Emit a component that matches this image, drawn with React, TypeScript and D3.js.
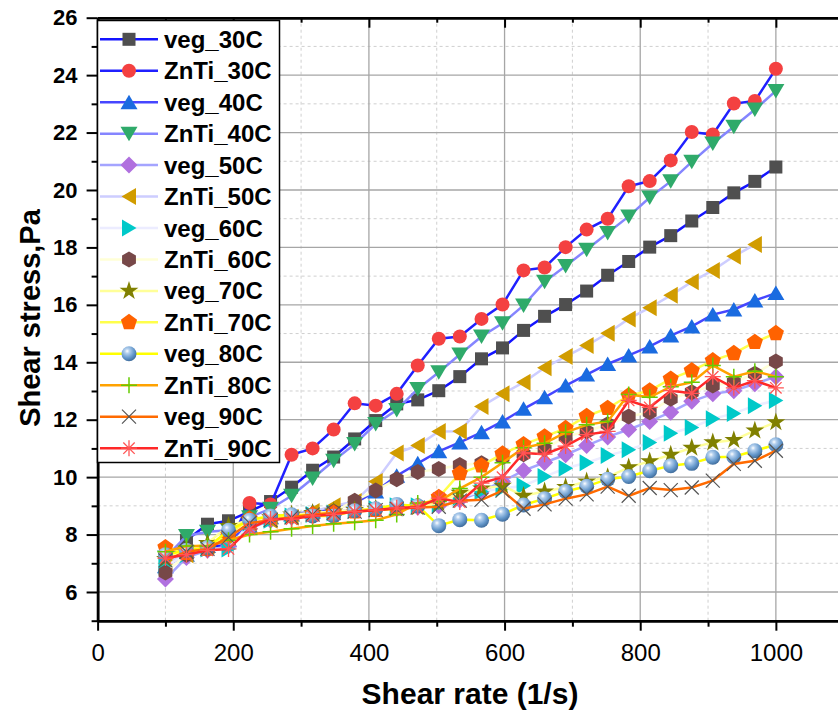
import React, { useEffect, useRef } from 'react'
import * as d3 from 'd3'

// shear rate (1/s)
const shearRate = [100, 131, 162, 193, 224, 255, 286, 317, 348, 379, 410, 441, 472, 503, 534, 566, 597, 628, 659, 690, 721, 752, 783, 814, 845, 876, 907, 938, 969, 1000]

// shear stress (Pa) per sample
const veg30 = [7.1, 7.8, 8.36, 8.48, 8.8, 9.15, 9.65, 10.24, 10.7, 11.33, 11.97, 12.55, 12.69, 13.01, 13.5, 14.12, 14.5, 15.11, 15.6, 16.01, 16.48, 17.03, 17.51, 18.01, 18.41, 18.92, 19.39, 19.9, 20.3, 20.8]
const znti30 = [7.2, 7.4, 7.55, 7.65, 9.1, 9.05, 10.78, 11.0, 11.66, 12.57, 12.49, 12.9, 13.89, 14.82, 14.9, 15.51, 16.01, 17.2, 17.3, 18.01, 18.62, 19.0, 20.13, 20.31, 21.03, 22.02, 21.93, 23.01, 23.1, 24.22]
const veg40 = [6.9, 7.3, 7.6, 7.8, 8.3, 8.6, 8.7, 8.8, 8.9, 9.1, 9.5, 10.05, 10.48, 10.9, 11.21, 11.56, 11.94, 12.38, 12.78, 13.19, 13.57, 13.94, 14.24, 14.55, 14.93, 15.25, 15.66, 15.84, 16.15, 16.41]
const znti40 = [7.2, 7.95, 8.1, 8.15, 8.6, 8.9, 9.35, 9.95, 10.57, 11.15, 11.85, 12.34, 13.07, 13.65, 14.27, 14.9, 15.36, 15.98, 16.8, 17.35, 17.92, 18.5, 19.08, 19.74, 20.3, 20.98, 21.62, 22.2, 22.8, 23.45]
const veg50 = [6.45, 7.2, 7.45, 7.6, 8.2, 8.5, 8.6, 8.7, 8.8, 8.85, 8.9, 8.9, 8.95, 9.0, 9.2, 9.5, 9.85, 10.23, 10.51, 10.78, 11.1, 11.4, 11.66, 11.94, 12.26, 12.64, 12.9, 13.01, 13.25, 13.5]
const znti50 = [7.0, 7.3, 7.6, 7.9, 8.4, 8.5, 8.6, 8.8, 9.0, 9.15, 9.85, 10.84, 11.1, 11.59, 11.6, 12.46, 12.9, 13.3, 13.81, 14.2, 14.58, 15.01, 15.51, 15.9, 16.33, 16.8, 17.2, 17.69, 18.1]
const veg60 = [6.9, 7.3, 7.5, 7.5, 8.4, 8.5, 8.65, 8.7, 8.75, 8.85, 8.9, 9.0, 9.0, 9.05, 9.3, 9.5, 9.6, 9.7, 10.02, 10.31, 10.5, 10.75, 10.95, 11.21, 11.53, 11.73, 12.03, 12.22, 12.49, 12.67]
const znti60 = [6.68, 7.3, 7.5, 8.0, 8.5, 8.6, 8.65, 8.7, 8.8, 9.18, 9.53, 9.93, 10.18, 10.28, 10.42, 10.48, 10.69, 10.8, 10.98, 11.41, 11.59, 11.84, 12.11, 12.26, 12.73, 12.96, 13.19, 13.3, 13.6, 14.03]
const veg70 = [7.15, 7.5, 7.7, 8.3, 8.5, 8.6, 8.7, 8.75, 8.8, 8.85, 8.9, 8.9, 8.95, 9.1, 9.45, 9.6, 9.7, 9.35, 9.5, 9.65, 9.85, 10.0, 10.34, 10.55, 10.78, 11.02, 11.21, 11.29, 11.62, 11.91]
const znti70 = [7.55, 7.35, 7.5, 8.0, 8.55, 8.6, 8.65, 8.7, 8.75, 8.8, 8.85, 8.9, 9.0, 9.3, 10.13, 10.4, 10.81, 11.14, 11.41, 11.7, 12.12, 12.4, 12.84, 13.01, 13.42, 13.71, 14.06, 14.31, 14.7, 15.01]
const veg80 = [7.3, 7.45, 7.55, 8.15, 8.5, 8.65, 8.69, 8.65, 8.65, 8.83, 8.9, 9.05, 9.0, 8.31, 8.52, 8.5, 8.71, 9.03, 9.25, 9.5, 9.68, 9.93, 10.02, 10.22, 10.4, 10.48, 10.69, 10.71, 10.92, 11.13]
const znti80 = [7.4, 7.6, 7.6, 7.8, 8.0, 8.1, 8.2, 8.3, 8.38, 8.43, 8.5, 8.7, 9.1, 9.15, 9.6, 10.0, 10.5, 11.02, 11.18, 11.56, 11.82, 11.94, 12.88, 12.78, 13.15, 13.3, 13.89, 13.5, 13.69, 13.5]
const veg90 = [7.1, 7.4, 7.5, 7.9, 8.4, 8.5, 8.6, 8.7, 8.75, 8.8, 8.85, 8.9, 8.94, 8.97, 9.18, 9.21, 9.53, 8.9, 9.05, 9.25, 9.4, 9.67, 9.35, 9.62, 9.55, 9.64, 9.88, 10.46, 10.57, 10.92]
const znti90 = [7.18, 7.3, 7.45, 7.5, 8.2, 8.54, 8.54, 8.65, 8.7, 8.8, 8.85, 8.93, 8.95, 9.27, 9.13, 9.79, 10.0, 10.84, 10.8, 11.08, 11.48, 11.59, 12.67, 12.43, 13.01, 12.92, 13.5, 13.11, 13.36, 13.11]

const seriesNames = ['veg_30C', 'ZnTi_30C', 'veg_40C', 'ZnTi_40C', 'veg_50C', 'ZnTi_50C', 'veg_60C', 'ZnTi_60C', 'veg_70C', 'ZnTi_70C', 'veg_80C', 'ZnTi_80C', 'veg_90C', 'ZnTi_90C']
const seriesValues = [veg30, znti30, veg40, znti40, veg50, znti50, veg60, znti60, veg70, znti70, veg80, znti80, veg90, znti90]

const xTicks = [0, 200, 400, 600, 800, 1000]
const xMinor = [100, 300, 500, 700, 900]
const yTicks = [6, 8, 10, 12, 14, 16, 18, 20, 22, 24, 26]
const yMinor = [5, 7, 9, 11, 13, 15, 17, 19, 21, 23, 25]

const lineColors = ['#1414ff', '#2020ff', '#4646ff', '#8585ff', '#a4a4ff', '#cdcdff', '#ececff', '#ffffd6', '#ffff99', '#ffff4a', '#ffff00', '#ffa200', '#ff6a00', '#ff2828']
const markerColors = ['#4f4f4f', '#f44141', '#1a6be0', '#2faa6a', '#b070df', '#d19c00', '#00c9c9', '#774848', '#808000', '#ff6200', '#6699cc', '#66cc00', '#555555', '#ff5555']
const markerTypes = ['square', 'circle', 'up', 'down', 'diamond', 'left', 'right', 'hexagon', 'star', 'pentagon', 'sphere', 'plus', 'cross', 'asterisk']

function polygon(n: number, r: number, rot: number) {
    const pts = d3.range(n).map(k => {
        const a = rot + k * 2 * Math.PI / n
        return [r * Math.cos(a), r * Math.sin(a)]
    })
    return 'M' + pts.map(p => p[0].toFixed(2) + ',' + p[1].toFixed(2)).join('L') + 'Z'
}

function drawMarker(g: any, type: string, color: string) {
    switch (type) {
        case 'square':
            g.append('rect').attr('x', -6.5).attr('y', -6.5).attr('width', 13).attr('height', 13).attr('fill', color)
            break
        case 'circle':
            g.append('circle').attr('r', 7).attr('fill', color)
            break
        case 'up':
            g.append('path').attr('d', 'M0,-7.5L8.5,7L-8.5,7Z').attr('fill', color)
            break
        case 'down':
            g.append('path').attr('d', 'M0,7.5L8.5,-7L-8.5,-7Z').attr('fill', color)
            break
        case 'left':
            g.append('path').attr('d', 'M-7.5,0L7,-8.5L7,8.5Z').attr('fill', color)
            break
        case 'right':
            g.append('path').attr('d', 'M7.5,0L-7,-8.5L-7,8.5Z').attr('fill', color)
            break
        case 'diamond':
            g.append('path').attr('d', 'M0,-8.5L8.5,0L0,8.5L-8.5,0Z').attr('fill', color)
            break
        case 'hexagon':
            g.append('path').attr('d', polygon(6, 8, -Math.PI / 2)).attr('fill', color)
            break
        case 'pentagon':
            g.append('path').attr('d', polygon(5, 8.5, -Math.PI / 2)).attr('fill', color)
            break
        case 'star':
            g.append('path').attr('d', d3.symbol(d3.symbolStar, 110)()).attr('fill', color)
            break
        case 'sphere':
            g.append('circle').attr('r', 7.5).attr('fill', 'url(#sphereGrad)')
            break
        case 'plus':
            g.append('path').attr('d', 'M-8,0H8M0,-8V8').attr('stroke', color).attr('stroke-width', 1.5)
            break
        case 'cross':
            g.append('path').attr('d', 'M-7,-7L7,7M-7,7L7,-7').attr('stroke', color).attr('stroke-width', 1.2)
            break
        case 'asterisk':
            g.append('path').attr('d', 'M-8,0H8M0,-8V8M-5.7,-5.7L5.7,5.7M-5.7,5.7L5.7,-5.7').attr('stroke', color).attr('stroke-width', 1.3)
            break
    }
}

export default function App() {
    const ref = useRef<SVGSVGElement>(null)

    useEffect(() => {
        const svg = d3.select(ref.current)
        svg.selectAll('*').remove()

        const left = 97.6, right = 843.7, top = 17.7, bottom = 620.7
        const x = d3.scaleLinear().domain([0, 1100]).range([left, right])
        const y = d3.scaleLinear().domain([5, 26]).range([bottom, top])
        const font = 'Liberation Sans, Arial, sans-serif'

        const defs = svg.append('defs')
        const grad = defs.append('radialGradient').attr('id', 'sphereGrad')
            .attr('cx', '38%').attr('cy', '32%').attr('r', '70%')
        grad.append('stop').attr('offset', '0%').attr('stop-color', '#ffffff')
        grad.append('stop').attr('offset', '22%').attr('stop-color', '#b4d0ee')
        grad.append('stop').attr('offset', '65%').attr('stop-color', '#6699cc')
        grad.append('stop').attr('offset', '100%').attr('stop-color', '#3f6c9c')

        // grid
        const grid = svg.append('g')
        grid.selectAll('.vminor').data(xMinor).enter().append('line')
            .attr('x1', d => x(d)).attr('x2', d => x(d)).attr('y1', top).attr('y2', bottom)
            .attr('stroke', '#cfcfcf').attr('stroke-width', 1).attr('stroke-dasharray', '3,3')
        grid.selectAll('.hminor').data(yMinor.filter(d => d > 5)).enter().append('line')
            .attr('x1', left).attr('x2', right).attr('y1', d => y(d)).attr('y2', d => y(d))
            .attr('stroke', '#cfcfcf').attr('stroke-width', 1).attr('stroke-dasharray', '3,3')
        grid.selectAll('.vmajor').data(xTicks.filter(d => d > 0)).enter().append('line')
            .attr('x1', d => x(d)).attr('x2', d => x(d)).attr('y1', top).attr('y2', bottom)
            .attr('stroke', '#a6a6a6').attr('stroke-width', 1.3)
        grid.selectAll('.hmajor').data(yTicks.filter(d => d < 26)).enter().append('line')
            .attr('x1', left).attr('x2', right).attr('y1', d => y(d)).attr('y2', d => y(d))
            .attr('stroke', '#a6a6a6').attr('stroke-width', 1.3)

        // series
        const lineGen = d3.line<number>()
            .x((d, i) => x(shearRate[i]))
            .y(d => y(d))
        const plot = svg.append('g')
        seriesValues.forEach((vals, s) => {
            plot.append('path')
                .attr('d', lineGen(vals))
                .attr('fill', 'none')
                .attr('stroke', lineColors[s])
                .attr('stroke-width', 2.5)
            vals.forEach((v, i) => {
                const g = plot.append('g').attr('transform', `translate(${x(shearRate[i])},${y(v)})`)
                drawMarker(g, markerTypes[s], markerColors[s])
            })
        })

        // axes
        const styleAxis = (g: any) => {
            g.select('.domain').attr('stroke', '#000').attr('stroke-width', 2.5)
            g.selectAll('.tick line').attr('stroke', '#000').attr('stroke-width', 2)
        }
        const xAxis = svg.append('g').attr('transform', `translate(0,${bottom})`)
            .call(d3.axisBottom(x).tickValues(xTicks).tickSize(10).tickSizeOuter(0).tickPadding(13).tickFormat(d3.format('d')))
        xAxis.call(styleAxis)
        xAxis.selectAll('text').attr('font-family', font).attr('font-size', 24).attr('fill', '#000')
        svg.append('g').attr('transform', `translate(0,${bottom})`)
            .call(d3.axisBottom(x).tickValues(xMinor).tickSize(6).tickSizeOuter(0).tickFormat(() => ''))
            .call(styleAxis)

        const xTop = svg.append('g').attr('transform', `translate(0,${top})`)
            .call(d3.axisTop(x).tickValues(xTicks).tickSize(-10).tickSizeOuter(0).tickFormat(() => ''))
        xTop.call(styleAxis)
        svg.append('g').attr('transform', `translate(0,${top})`)
            .call(d3.axisTop(x).tickValues(xMinor).tickSize(-5).tickSizeOuter(0).tickFormat(() => ''))
            .call(styleAxis)

        const yAxis = svg.append('g').attr('transform', `translate(${left},0)`)
            .call(d3.axisLeft(y).tickValues(yTicks).tickSize(11).tickSizeOuter(0).tickPadding(9))
        yAxis.call(styleAxis)
        yAxis.selectAll('text').attr('font-family', font).attr('font-size', 22)
            .attr('font-weight', 'bold').attr('fill', '#000')
        svg.append('g').attr('transform', `translate(${left},0)`)
            .call(d3.axisLeft(y).tickValues(yMinor).tickSize(6).tickSizeOuter(0).tickFormat(() => ''))
            .call(styleAxis)

        // axis titles
        svg.append('text')
            .attr('x', 470).attr('y', 704)
            .attr('text-anchor', 'middle')
            .attr('font-family', font).attr('font-size', 30).attr('font-weight', 'bold')
            .text('Shear rate (1/s)')
        svg.append('text')
            .attr('transform', 'translate(40,318) rotate(-90)')
            .attr('text-anchor', 'middle')
            .attr('font-family', font).attr('font-size', 29).attr('font-weight', 'bold')
            .text('Shear stress,Pa')

        // legend
        const legend = svg.append('g')
        legend.append('rect')
            .attr('x', 97.5).attr('y', 20.5).attr('width', 182).attr('height', 442)
            .attr('fill', '#fff').attr('stroke', '#000').attr('stroke-width', 1.5)
        seriesNames.forEach((name, s) => {
            const cy = 39.3 + s * 31.45
            legend.append('line')
                .attr('x1', 100).attr('x2', 158).attr('y1', cy).attr('y2', cy)
                .attr('stroke', lineColors[s]).attr('stroke-width', 2.5)
            const g = legend.append('g').attr('transform', `translate(129,${cy})`)
            drawMarker(g, markerTypes[s], markerColors[s])
            legend.append('text')
                .attr('x', 164).attr('y', cy + 8.5)
                .attr('font-family', font).attr('font-size', 24).attr('font-weight', 'bold')
                .text(name)
        })
    }, [])

    return (
        <div style={{ position: 'absolute', left: 0, top: 0 }}>
            <svg ref={ref} width={838} height={719} style={{ display: 'block', background: '#fff' }} />
        </div>
    )
}
